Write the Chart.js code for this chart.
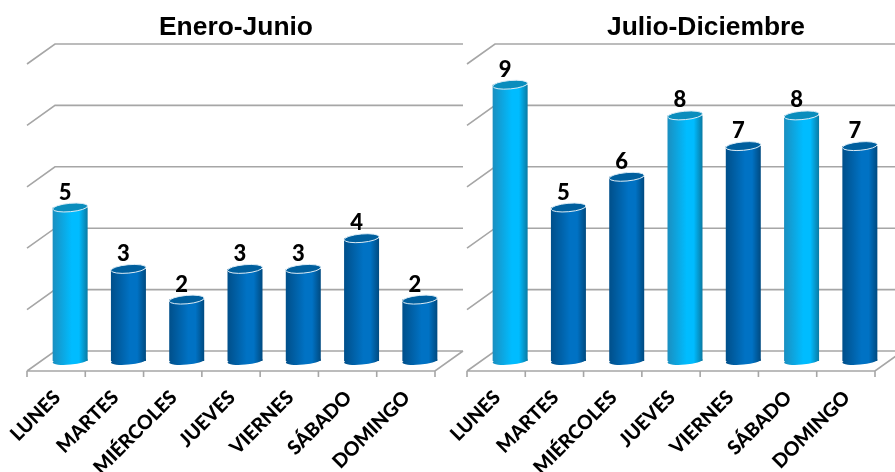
<!DOCTYPE html>
<html lang="es">
<head>
<meta charset="utf-8">
<title>Enero-Junio / Julio-Diciembre</title>
<script src="https://cdn.jsdelivr.net/npm/chart.js@4/dist/chart.umd.min.js"></script>
<style>
    html, body { margin: 0; padding: 0; background: #fff; overflow: hidden; }
    #page { position: relative; width: 895px; height: 472px; overflow: hidden; }
    canvas { position: absolute; top: 0; }
    h2 {
        position: absolute; top: 11px; margin: 0; text-align: center;
        font: bold 26.4px "Liberation Sans", Arial, sans-serif; color: #000; line-height: 30px;
    }
    #t1 { left: 0; width: 472px; }
    #t2 { left: 517px; width: 378px; }
    #c1 { left: -60px; }
    #c2 { left: 395px; }
</style>
</head>
<body>
<div id="page">
    <canvas id="c1" width="560" height="472"></canvas>
    <canvas id="c2" width="540" height="472"></canvas>
    <h2 id="t1">Enero-Junio</h2>
    <h2 id="t2">Julio-Diciembre</h2>
</div>
<script>
const categorias = ['LUNES', 'MARTES', 'MIÉRCOLES', 'JUEVES', 'VIERNES', 'SÁBADO', 'DOMINGO'];
const valoresEnero = [5, 3, 2, 3, 3, 4, 2];
const valoresJulio = [9, 5, 6, 8, 7, 8, 7];
const destacadosEnero = ['LUNES'];
const destacadosJulio = ['LUNES', 'JUEVES', 'SÁBADO'];

const DX = 14, DY = 10; // half of the fake 3D depth
const BAR_W = 35;

const claro = { edgeL: '#1a8fc0', mid: '#00bcff', edgeR: '#0a7aa3', top: '#0a8dbd' };
const oscuro = { edgeL: '#004f8a', mid: '#0072c4', edgeR: '#004a80', top: '#005f9e' };

function barGradient(ctx, x, pal) {
    const g = ctx.createLinearGradient(x - BAR_W / 2, 0, x + BAR_W / 2, 0);
    g.addColorStop(0, pal.edgeL);
    g.addColorStop(0.55, pal.mid);
    g.addColorStop(0.75, pal.mid);
    g.addColorStop(1, pal.edgeR);
    return g;
}

function paletteFor(chart, index) {
    return chart.options.destacados.includes(categorias[index]) ? claro : oscuro;
}

// walls, floor and gridlines, placed from the value scale
const grid3d = {
    id: 'grid3d',
    beforeDatasetsDraw(chart) {
        const { ctx, scales: { x, y } } = chart;
        const left = x.left, right = x.right;
        ctx.save();
        ctx.strokeStyle = '#a6a6a6';
        ctx.lineWidth = 1.6;
        ctx.beginPath();
        y.ticks.forEach(t => {
            const py = y.getPixelForValue(t.value);
            ctx.moveTo(left - DX, py + DY);
            ctx.lineTo(left + DX, py - DY);
            ctx.lineTo(right + DX, py - DY);
        });
        const floor = y.getPixelForValue(0);
        ctx.moveTo(left - DX, floor + DY);
        ctx.lineTo(right - DX, floor + DY);
        ctx.lineTo(right + DX, floor - DY);
        const step = (right - left) / categorias.length;
        for (let i = 0; i <= categorias.length; i++) {
            ctx.moveTo(left - DX + i * step, floor + DY);
            ctx.lineTo(left - DX + i * step, floor + DY + 6);
        }
        ctx.stroke();

        // rounded feet of the cylinders
        chart.getDatasetMeta(0).data.forEach((bar, i) => {
            ctx.fillStyle = barGradient(ctx, bar.x, paletteFor(chart, i));
            ctx.beginPath();
            ctx.ellipse(bar.x, floor, BAR_W / 2, 3.6, -0.09, 0, Math.PI * 2);
            ctx.fill();
        });
        ctx.restore();
    },
    afterDatasetsDraw(chart) {
        const { ctx } = chart;
        const values = chart.data.datasets[0].data;
        ctx.save();
        chart.getDatasetMeta(0).data.forEach((bar, i) => {
            ctx.beginPath();
            ctx.ellipse(bar.x, bar.y, BAR_W / 2, 4.2, -0.09, 0, Math.PI * 2);
            ctx.fillStyle = paletteFor(chart, i).top;
            ctx.fill();
            ctx.strokeStyle = '#dcecf6';
            ctx.lineWidth = 1;
            ctx.stroke();

            ctx.fillStyle = '#000';
            ctx.font = '900 22px Lato, sans-serif';
            ctx.textAlign = 'center';
            ctx.textBaseline = 'middle';
            ctx.fillText(values[i], bar.x - 5, bar.y - 15);
        });
        ctx.restore();
    }
};

function barFill(c) {
    const x = c.chart.scales.x.getPixelForValue(c.dataIndex);
    if (!Number.isFinite(x)) return oscuro.mid; // scales not laid out yet
    return barGradient(c.chart.ctx, x, paletteFor(c.chart, c.dataIndex));
}

function makeChart(id, valores, destacados, padLeft, padRight) {
    return new Chart(document.getElementById(id), {
        type: 'bar',
        data: {
            labels: categorias,
            datasets: [{
                data: valores,
                categoryPercentage: BAR_W / 58.3,
                barPercentage: 1,
                borderWidth: 0,
                backgroundColor: barFill
            }]
        },
        options: {
            destacados,
            responsive: false,
            animation: false,
            layout: { padding: { top: 54, left: padLeft, right: padRight, bottom: 0 } },
            plugins: { legend: { display: false }, tooltip: { enabled: false }, title: { display: false } },
            scales: {
                x: {
                    afterFit: s => { s.height = 111; },
                    grid: { display: false, drawTicks: false },
                    border: { display: false },
                    ticks: {
                        color: '#000',
                        font: { family: 'Lato, sans-serif', weight: '900', size: 19.5 },
                        minRotation: 45, maxRotation: 45,
                        autoSkip: false,
                        padding: 25,
                        labelOffset: -DX + 1
                    }
                },
                y: { display: false, min: 0, max: 10, ticks: { stepSize: 2 } }
            }
        },
        plugins: [grid3d]
    });
}

makeChart('c1', valoresEnero, destacadosEnero, 101, 51);
makeChart('c2', valoresJulio, destacadosJulio, 86, 46);
</script>
</body>
</html>
